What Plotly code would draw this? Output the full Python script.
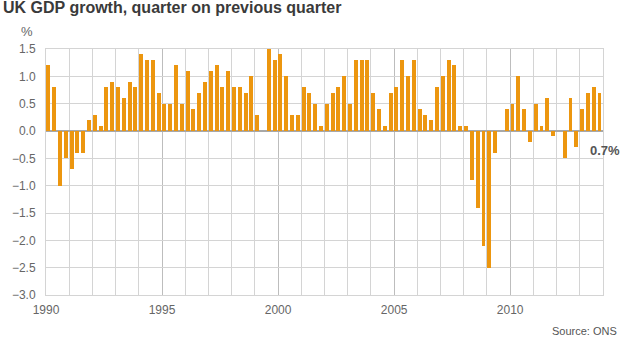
import plotly.graph_objects as go

# Quarterly GDP growth, % change on previous quarter, 1990 Q1 - 2013 Q4
start_year = 1990
growth = [
    1.2, 0.8, -1.0, -0.5,    # 1990
    -0.7, -0.4, -0.4, 0.2,   # 1991
    0.3, 0.1, 0.8, 0.9,      # 1992
    0.8, 0.6, 0.9, 0.8,      # 1993
    1.4, 1.3, 1.3, 0.7,      # 1994
    0.5, 0.5, 1.2, 0.5,      # 1995
    1.1, 0.4, 0.7, 0.9,      # 1996
    1.1, 1.2, 0.8, 1.1,      # 1997
    0.8, 0.8, 0.7, 1.0,      # 1998
    0.3, 0.0, 1.5, 1.3,      # 1999
    1.4, 1.0, 0.3, 0.3,      # 2000
    0.8, 0.7, 0.5, 0.1,      # 2001
    0.5, 0.7, 0.8, 1.0,      # 2002
    0.5, 1.3, 1.3, 1.3,      # 2003
    0.7, 0.4, 0.1, 0.7,      # 2004
    0.8, 1.3, 1.0, 1.3,      # 2005
    0.4, 0.3, 0.2, 0.8,      # 2006
    1.0, 1.3, 1.2, 0.1,      # 2007
    0.1, -0.9, -1.4, -2.1,   # 2008
    -2.5, -0.4, 0.0, 0.4,    # 2009
    0.5, 1.0, 0.4, -0.2,     # 2010
    0.5, 0.1, 0.6, -0.1,     # 2011
    0.0, -0.5, 0.6, -0.3,    # 2012
    0.4, 0.7, 0.8, 0.7,      # 2013
]

year_ticks = list(range(1990, 2015, 5))
y_ticks = [1.5, 1.0, 0.5, 0.0, -0.5, -1.0, -1.5, -2.0, -2.5, -3.0]

# each bar sits at the start of its quarter
quarter_x = [start_year + 0.25 * i + 0.1 for i in range(len(growth))]

font_family = "Liberation Sans, Arial, sans-serif"
grid = "#d4d4d4"
text_grey = "#666666"

fig = go.Figure()
fig.add_trace(go.Bar(
    x=quarter_x,
    y=growth,
    width=0.17,
    marker=dict(color="#EC960F", line=dict(width=0)),
    hoverinfo="x+y",
))

fig.update_layout(
    width=623,
    height=338,
    margin=dict(l=37, r=20, t=49, b=43),
    paper_bgcolor="white",
    plot_bgcolor="white",
    showlegend=False,
    font=dict(family=font_family, size=12, color=text_grey),
    title=dict(
        text="<b>UK GDP growth, quarter on previous quarter</b>",
        font=dict(family=font_family, size=16, color="#3a3a3a"),
        xref="container", yref="container",
        x=3 / 623, xanchor="left",
        y=1 - 2 / 338, yanchor="top",
    ),
    xaxis=dict(
        range=[1990, 2014],
        tickmode="array",
        tickvals=year_ticks,
        ticktext=[str(y) for y in year_ticks],
        showgrid=True,
        gridcolor="#bdbdbd",
        gridwidth=1,
        minor=dict(dtick=1, tick0=1990, showgrid=True, gridcolor=grid, gridwidth=1),
        showline=True,
        linecolor=grid,
        mirror=True,
        zeroline=False,
        ticks="",
        ticklabelstandoff=4,
        tickfont=dict(size=12, color=text_grey),
    ),
    yaxis=dict(
        range=[-3.0, 1.5],
        tickmode="array",
        tickvals=y_ticks,
        tickformat=".1f",
        showgrid=True,
        gridcolor=grid,
        gridwidth=1,
        zeroline=True,
        zerolinecolor="#a8a8a8",
        zerolinewidth=2,
        showline=True,
        linecolor=grid,
        mirror=True,
        ticks="",
        ticklabelstandoff=7,
        tickfont=dict(size=12, color=text_grey),
    ),
    bargap=0,
)

annotations = [
    dict(text="%", xref="paper", yref="paper", x=-0.048, y=1.072,
         xanchor="left", yanchor="middle", showarrow=False,
         font=dict(size=13, color=text_grey)),
    dict(text=f"<b>{growth[-1]:.1f}%</b>", xref="x", yref="y",
         x=2013.36, y=-0.35, xanchor="left", yanchor="middle",
         showarrow=False, font=dict(size=13, color="#555555")),
    dict(text="Source: ONS", xref="paper", yref="paper",
         x=1.0295, y=-0.146, xanchor="right", yanchor="middle",
         showarrow=False, font=dict(size=11, color="#555555")),
]
fig.update_layout(annotations=annotations)

fig.write_html("out.html")
